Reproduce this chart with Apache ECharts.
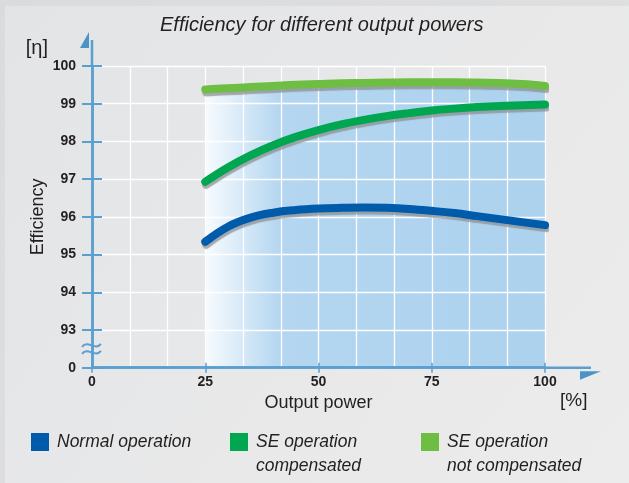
<!DOCTYPE html>
<html>
<head>
<meta charset="utf-8">
<script src="https://cdn.jsdelivr.net/npm/echarts@6/dist/echarts.min.js"></script>
<style>
html, body { margin: 0; padding: 0; }
#chart { width: 629px; height: 483px; }
</style>
</head>
<body>
<div id="chart"></div>
<script>
// output power in % (x) and efficiency values
var powerLevels = [25, 30, 35, 40, 45, 50, 55, 60, 65, 70, 75, 80, 85, 90, 95, 100];
var normalOp = [95.34, 95.74, 95.98, 96.11, 96.18, 96.22, 96.24, 96.25, 96.24, 96.21, 96.16, 96.1, 96.02, 95.94, 95.86, 95.78];
var seCompensated = [96.93, 97.31, 97.63, 97.9, 98.12, 98.3, 98.45, 98.57, 98.67, 98.75, 98.82, 98.87, 98.91, 98.94, 98.96, 98.98];
var seNotCompensated = [99.38, 99.41, 99.44, 99.47, 99.5, 99.52, 99.54, 99.55, 99.56, 99.57, 99.57, 99.57, 99.56, 99.55, 99.52, 99.47];
var seriesNames = ['Normal operation', 'SE operation\ncompensated', 'SE operation\nnot compensated'];
// the y axis is broken: its lowest tick stands for 0
var yBreakValue = 92;
var yBreakLabel = '0';

var FONT = '"Liberation Sans", Arial, sans-serif';
var TEXT = '#231f20';
var AXIS = '#5b9fcf';
var ARROW = '#4a94c8';

function pairs(ys) {
    return powerLevels.map(function (x, i) {
        return [x, ys[i]];
    });
}

var chart = echarts.init(document.getElementById('chart'));

var axisLine = {onZero: false, lineStyle: {color: AXIS, width: 2.5}};
var white = {color: '#ffffff', width: 1.3};

function curve(name, color, ys) {
    return {
        name: name,
        type: 'line',
        data: pairs(ys),
        smooth: 0.4,
        symbol: 'none',
        color: color,
        z: 3,
        lineStyle: {
            width: 8,
            cap: 'round',
            color: color,
            shadowColor: 'rgba(140,142,146,0.75)',
            shadowBlur: 1,
            shadowOffsetX: 1,
            shadowOffsetY: 3
        }
    };
}

function legendAt(name, left, top, twoLines) {
    return {
        data: [name],
        left: left,
        top: top,
        icon: 'rect',
        itemWidth: 18,
        itemHeight: 18,
        padding: 0,
        selectedMode: false,
        itemStyle: {shadowBlur: 0, shadowOffsetX: 0, shadowOffsetY: 0, borderWidth: 0},
        // a blank first line keeps the first text line level with the square
        formatter: function (n) {
            return twoLines ? ' \n' + n : n;
        },
        textStyle: {
            fontFamily: FONT, fontSize: 17.5, fontStyle: 'italic', color: TEXT,
            lineHeight: 24,
            padding: [0, 0, 0, 3]
        }
    };
}

var options = {
    backgroundColor: {
        type: 'linear', x: 0, y: 0, x2: 1, y2: 1,
        colorStops: [{offset: 0, color: '#e3e4e6'}, {offset: 1, color: '#ececec'}]
    },
    animation: false,
    title: {
        text: 'Efficiency for different output powers',
        left: 155,
        top: 10,
        textStyle: {fontFamily: FONT, fontSize: 20, fontStyle: 'italic', fontWeight: 'normal', color: TEXT}
    },
    legend: [
        legendAt(seriesNames[0], 31, 430, false),
        legendAt(seriesNames[1], 230, 406, true),
        legendAt(seriesNames[2], 421, 406, true)
    ],
    grid: {left: 92, right: 84, top: 66, bottom: 115.3},
    xAxis: [{
        type: 'value', min: 0, max: 100, interval: 25, position: 'bottom', z: 2,
        axisLine: axisLine,
        axisTick: {show: true, length: 5, lineStyle: {color: AXIS, width: 1.5}},
        axisLabel: {margin: 7, fontFamily: FONT, fontSize: 14, fontWeight: 'bold', color: TEXT},
        splitLine: {show: true, lineStyle: white},
        minorTick: {show: false, splitNumber: 3},
        minorSplitLine: {show: true, lineStyle: white},
        name: 'Output power', nameLocation: 'middle', nameGap: 21,
        nameTextStyle: {fontFamily: FONT, fontSize: 18, color: TEXT}
    }, {
        type: 'value', min: 0, max: 100, interval: 25, position: 'bottom', z: 2,
        axisLine: axisLine,
        axisTick: {show: true, inside: true, length: 5, lineStyle: {color: AXIS, width: 1.5}},
        axisLabel: {show: false},
        splitLine: {show: false},
        name: '[%]', nameLocation: 'end', nameGap: 15,
        nameTextStyle: {fontFamily: FONT, fontSize: 19, color: TEXT, verticalAlign: 'top', padding: [24, 0, 0, 0]}
    }],
    yAxis: [{
        type: 'value', min: yBreakValue, max: 100, interval: 1, position: 'left', z: 2,
        axisLine: axisLine,
        axisTick: {show: true, length: 10, lineStyle: {color: AXIS, width: 2}},
        axisLabel: {
            margin: 16, fontFamily: FONT, fontSize: 14, fontWeight: 'bold', color: TEXT,
            formatter: function (v) {
                return v === yBreakValue ? yBreakLabel : String(v);
            }
        },
        splitLine: {show: true, lineStyle: white},
        name: 'Efficiency', nameLocation: 'middle', nameGap: 45, nameRotate: 90,
        nameMoveOverlap: false,
        nameTextStyle: {fontFamily: FONT, fontSize: 18, color: TEXT}
    }, {
        type: 'value', min: yBreakValue, max: 100, interval: 1, position: 'left', z: 2,
        axisLine: axisLine,
        axisTick: {show: true, inside: true, length: 10, lineStyle: {color: AXIS, width: 2}},
        axisLabel: {show: false},
        splitLine: {show: false},
        name: '[η]', nameLocation: 'end', nameGap: 8,
        nameTextStyle: {fontFamily: FONT, fontSize: 20, color: TEXT, align: 'right', padding: [0, 44, 0, 0]}
    }],
    series: [{
        // blue background area under the top curve
        name: 'area',
        type: 'line',
        data: pairs(seNotCompensated),
        smooth: 0.4,
        symbol: 'none',
        silent: true,
        z: 1,
        lineStyle: {width: 0},
        areaStyle: {
            opacity: 1,
            color: {
                type: 'linear', x: 0, y: 0, x2: 1, y2: 0,
                colorStops: [
                    {offset: 0, color: '#f7fbfe'},
                    {offset: 0.11, color: '#d6e9f7'},
                    {offset: 0.22, color: '#b4d6f0'},
                    {offset: 1, color: '#acd2ee'}
                ]
            }
        }
    },
        curve(seriesNames[0], '#005bab', normalOp),
        curve(seriesNames[1], '#00a650', seCompensated),
        curve(seriesNames[2], '#6fbe44', seNotCompensated)
    ]
};
chart.setOption(options);

// arrows, axis extensions and the break mark, placed from the axis scales
var o = chart.convertToPixel({gridIndex: 0}, [0, yBreakValue]);
var t = chart.convertToPixel({gridIndex: 0}, [0, 100]);
var r = chart.convertToPixel({gridIndex: 0}, [100, yBreakValue]);
var b = chart.convertToPixel({gridIndex: 0}, [0, 92.5]);

function wave(yc) {
    return {
        type: 'bezierCurve',
        shape: {
            x1: o[0] - 10, y1: yc + 1.5,
            cpx1: o[0] - 4, cpy1: yc - 6,
            cpx2: o[0] + 3, cpy2: yc + 6,
            x2: o[0] + 9, y2: yc - 1.5
        },
        style: {stroke: AXIS, lineWidth: 2, fill: null},
        z: 10
    };
}

chart.setOption({
    graphic: [
        {type: 'rect', shape: {x: 0, y: 0, width: 629, height: 6}, style: {fill: 'rgba(0,0,0,0.04)'}, z: 0},
        {type: 'rect', shape: {x: 0, y: 6, width: 5, height: 477}, style: {fill: 'rgba(0,0,0,0.04)'}, z: 0},
        {type: 'line', shape: {x1: t[0], y1: t[1], x2: t[0], y2: t[1] - 26}, style: {stroke: AXIS, lineWidth: 2.5}, z: 10},
        {type: 'polygon', shape: {points: [[t[0] - 3, t[1] - 18], [t[0] - 3, t[1] - 34], [t[0] - 12, t[1] - 18]]}, style: {fill: ARROW}, z: 10},
        {type: 'line', shape: {x1: r[0], y1: r[1], x2: r[0] + 46, y2: r[1]}, style: {stroke: AXIS, lineWidth: 2.5}, z: 10},
        {type: 'polygon', shape: {points: [[r[0] + 35, r[1] + 3.5], [r[0] + 56, r[1] + 3.5], [r[0] + 35, r[1] + 12]]}, style: {fill: ARROW}, z: 10},
        wave(b[1] - 3.5),
        wave(b[1] + 3.5)
    ]
});
</script>
</body>
</html>
